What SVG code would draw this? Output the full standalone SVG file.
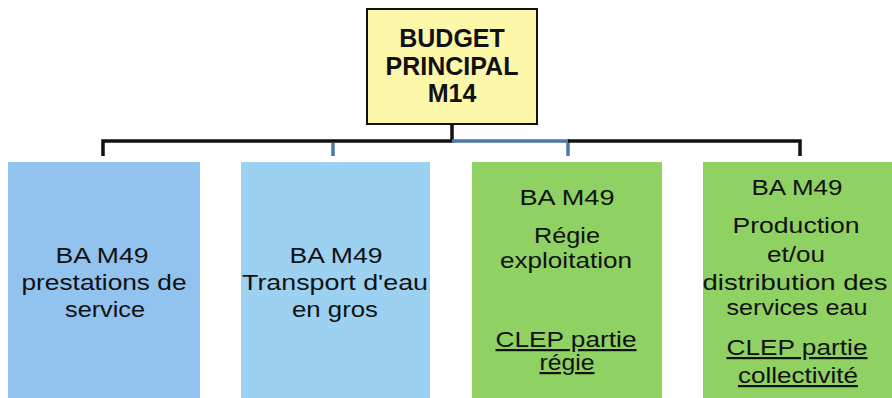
<svg xmlns="http://www.w3.org/2000/svg" width="892" height="398" viewBox="0 0 892 398">
<style>
.t{font-family:"Liberation Sans",Arial,sans-serif;font-size:22px;fill:#111;text-anchor:middle}
.h{font-family:"Liberation Sans",Arial,sans-serif;font-size:25px;font-weight:bold;fill:#111;text-anchor:middle}
.u{text-decoration:underline}
.k{stroke:#111;stroke-width:3.5;fill:none}
.b{stroke:#4A78A6;stroke-width:3.5;fill:none}
</style>
<rect width="892" height="398" fill="#fff"/>
<g id="connectors">
<path class="k" d="M452 124V141H103V156"/>
<path class="b" d="M452 141H568V156"/>
<path class="k" d="M568 141H800V156"/>
<path class="b" d="M333 143V156"/>
</g>
<g id="budget-principal">
<rect x="367" y="9" width="170" height="115" fill="#FDF7A9" stroke="#111" stroke-width="2"/>
<text class="h" x="452" y="47">BUDGET</text>
<text class="h" x="452" y="75">PRINCIPAL</text>
<text class="h" x="452" y="102">M14</text>
</g>
<g id="ba-prestations">
<rect x="8" y="162" width="192" height="240" fill="#92C2EE"/>
<text class="t" x="102" y="263" textLength="93" lengthAdjust="spacingAndGlyphs">BA M49</text>
<text class="t" x="104" y="290" textLength="165" lengthAdjust="spacingAndGlyphs">prestations de</text>
<text class="t" x="105" y="317" textLength="80" lengthAdjust="spacingAndGlyphs">service</text>
</g>
<g id="ba-transport">
<rect x="241" y="162" width="189" height="240" fill="#9CD1F1"/>
<text class="t" x="336" y="263" textLength="93" lengthAdjust="spacingAndGlyphs">BA M49</text>
<text class="t" x="335" y="290" textLength="186" lengthAdjust="spacingAndGlyphs">Transport d'eau</text>
<text class="t" x="335" y="317" textLength="86" lengthAdjust="spacingAndGlyphs">en gros</text>
</g>
<g id="ba-regie">
<rect x="472" y="162" width="190" height="240" fill="#8FD163"/>
<text class="t" x="567" y="205" textLength="95" lengthAdjust="spacingAndGlyphs">BA M49</text>
<text class="t" x="567" y="243" textLength="66" lengthAdjust="spacingAndGlyphs">Régie</text>
<text class="t" x="566" y="268" textLength="132" lengthAdjust="spacingAndGlyphs">exploitation</text>
<text class="t u" x="566" y="347" textLength="141" lengthAdjust="spacingAndGlyphs">CLEP partie</text>
<text class="t u" x="567" y="370" textLength="55" lengthAdjust="spacingAndGlyphs">régie</text>
</g>
<g id="ba-production">
<rect x="703" y="162" width="195" height="240" fill="#8FD163"/>
<text class="t" x="797" y="195" textLength="91" lengthAdjust="spacingAndGlyphs">BA M49</text>
<text class="t" x="796" y="233" textLength="127" lengthAdjust="spacingAndGlyphs">Production</text>
<text class="t" x="796" y="262" textLength="58" lengthAdjust="spacingAndGlyphs">et/ou</text>
<text class="t" x="795" y="290" textLength="185" lengthAdjust="spacingAndGlyphs">distribution des</text>
<text class="t" x="797" y="315" textLength="141" lengthAdjust="spacingAndGlyphs">services eau</text>
<text class="t u" x="797" y="355" textLength="141" lengthAdjust="spacingAndGlyphs">CLEP partie</text>
<text class="t u" x="798" y="383" textLength="120" lengthAdjust="spacingAndGlyphs">collectivité</text>
</g>
</svg>
